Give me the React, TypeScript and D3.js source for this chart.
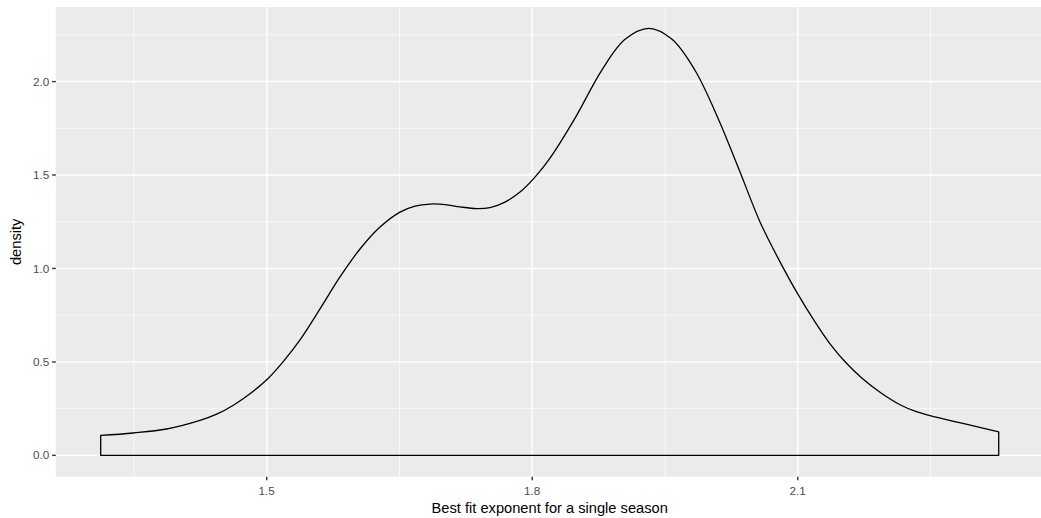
import React from "react";
import * as d3 from "d3";

// Density curve (x = exponent, y = density)
const curveX = [
  1.3124, 1.3493, 1.387, 1.4246, 1.4435, 1.4623, 1.4811, 1.5, 1.5184, 1.5376,
  1.5602, 1.5828, 1.6054, 1.628, 1.6506, 1.6676, 1.6845, 1.7015, 1.7184,
  1.7373, 1.7523, 1.7692, 1.7862, 1.8031, 1.8201, 1.8484, 1.8785, 1.9049,
  1.932, 1.958, 1.9839, 2.0099, 2.0348, 2.0574, 2.08, 2.1, 2.1195, 2.1365,
  2.1535, 2.1727, 2.193, 2.2156, 2.2326, 2.2495, 2.289, 2.3271,
];
const curveY = [
  0.1068, 0.1197, 0.141, 0.187, 0.2201, 0.2682, 0.3296, 0.4044, 0.5005,
  0.6181, 0.7837, 0.9546, 1.1042, 1.2217, 1.3018, 1.3339, 1.3446, 1.3419,
  1.3296, 1.3205, 1.3259, 1.3553, 1.4087, 1.4888, 1.5903, 1.8042, 2.0604,
  2.226, 2.2848, 2.226, 2.0604, 1.8042, 1.516, 1.2489, 1.0353, 0.8638,
  0.7142, 0.5967, 0.5005, 0.4124, 0.3376, 0.2708, 0.2361, 0.2121, 0.1683,
  0.125,
];

const xMajor = [1.5, 1.8, 2.1];
const xMinor = [1.35, 1.65, 1.95, 2.25];
const yMajor = [0, 0.5, 1.0, 1.5, 2.0];
const yMinor = [0.25, 0.75, 1.25, 1.75, 2.25];
const xTickLabels = ["1.5", "1.8", "2.1"];
const yTickLabels = ["0.0", "0.5", "1.0", "1.5", "2.0"];

const xTitle = "Best fit exponent for a single season";
const yTitle = "density";

export default function App() {
  const W = 1041;
  const H = 518;
  const panelLeft = 55.8;
  const panelTop = 7;
  const panelBottom = 476.7;

  const xMin = d3.min(curveX)!;
  const xMax = d3.max(curveX)!;
  const yMaxV = d3.max(curveY)!;
  const xPad = (xMax - xMin) * 0.05;
  const yPad = yMaxV * 0.05;

  const pxPerUnit = 885;
  const panelRight = panelLeft + (xMax - xMin + 2 * xPad) * pxPerUnit;

  const x = d3
    .scaleLinear()
    .domain([xMin - xPad, xMax + xPad])
    .range([panelLeft, panelRight]);
  const y = d3
    .scaleLinear()
    .domain([-yPad, yMaxV + yPad])
    .range([panelBottom, panelTop]);

  const pts: [number, number][] = curveX.map((v, i) => [v, curveY[i]]);
  const line = d3
    .line<[number, number]>()
    .x((d) => x(d[0]))
    .y((d) => y(d[1]))
    .curve(d3.curveCatmullRom.alpha(0.5));
  const top = line(pts)!;
  const path =
    `M${x(xMin)},${y(0)}L${x(xMin)},${y(curveY[0])}` +
    top.replace(/^M/, "L") +
    `L${x(xMax)},${y(0)}Z`;

  const tickColor = "#333333";
  const labelColor = "#4D4D4D";
  const font = "'Liberation Sans', Arial, Helvetica, sans-serif";

  return (
    <svg
      width={W}
      height={H}
      style={{ position: "absolute", left: 0, top: 0, background: "#fff" }}
      fontFamily={font}
    >
      <defs>
        <clipPath id="panel">
          <rect
            x={panelLeft}
            y={panelTop}
            width={panelRight - panelLeft}
            height={panelBottom - panelTop}
          />
        </clipPath>
      </defs>
      <rect
        x={panelLeft}
        y={panelTop}
        width={panelRight - panelLeft}
        height={panelBottom - panelTop}
        fill="#EBEBEB"
      />
      <g clipPath="url(#panel)">
        {xMinor.map((v) => (
          <line
            key={"xm" + v}
            x1={x(v)}
            x2={x(v)}
            y1={panelTop}
            y2={panelBottom}
            stroke="#fff"
            strokeWidth={0.71}
          />
        ))}
        {yMinor.map((v) => (
          <line
            key={"ym" + v}
            x1={panelLeft}
            x2={panelRight}
            y1={y(v)}
            y2={y(v)}
            stroke="#fff"
            strokeWidth={0.71}
          />
        ))}
        {xMajor.map((v) => (
          <line
            key={"xM" + v}
            x1={x(v)}
            x2={x(v)}
            y1={panelTop}
            y2={panelBottom}
            stroke="#fff"
            strokeWidth={1.42}
          />
        ))}
        {yMajor.map((v) => (
          <line
            key={"yM" + v}
            x1={panelLeft}
            x2={panelRight}
            y1={y(v)}
            y2={y(v)}
            stroke="#fff"
            strokeWidth={1.42}
          />
        ))}
        <path
          d={path}
          fill="none"
          stroke="#000"
          strokeWidth={1.3}
          strokeLinejoin="round"
        />
      </g>
      {xMajor.map((v, i) => (
        <g key={"xt" + v}>
          <line
            x1={x(v)}
            x2={x(v)}
            y1={panelBottom}
            y2={panelBottom + 3.67}
            stroke={tickColor}
            strokeWidth={1.42}
          />
          <text
            x={x(v)}
            y={494.5}
            textAnchor="middle"
            fontSize={11.73}
            fill={labelColor}
          >
            {xTickLabels[i]}
          </text>
        </g>
      ))}
      {yMajor.map((v, i) => (
        <g key={"yt" + v}>
          <line
            x1={panelLeft - 3.67}
            x2={panelLeft}
            y1={y(v)}
            y2={y(v)}
            stroke={tickColor}
            strokeWidth={1.42}
          />
          <text
            x={panelLeft - 6.6}
            y={y(v)}
            dy="0.35em"
            textAnchor="end"
            fontSize={11.73}
            fill={labelColor}
          >
            {yTickLabels[i]}
          </text>
        </g>
      ))}
      <text
        x={(panelLeft + panelRight) / 2}
        y={513}
        textAnchor="middle"
        fontSize={14.67}
        fill="#000"
      >
        {xTitle}
      </text>
      <text
        transform={`translate(${21},${(panelTop + panelBottom) / 2}) rotate(-90)`}
        textAnchor="middle"
        fontSize={14.67}
        fill="#000"
      >
        {yTitle}
      </text>
    </svg>
  );
}
